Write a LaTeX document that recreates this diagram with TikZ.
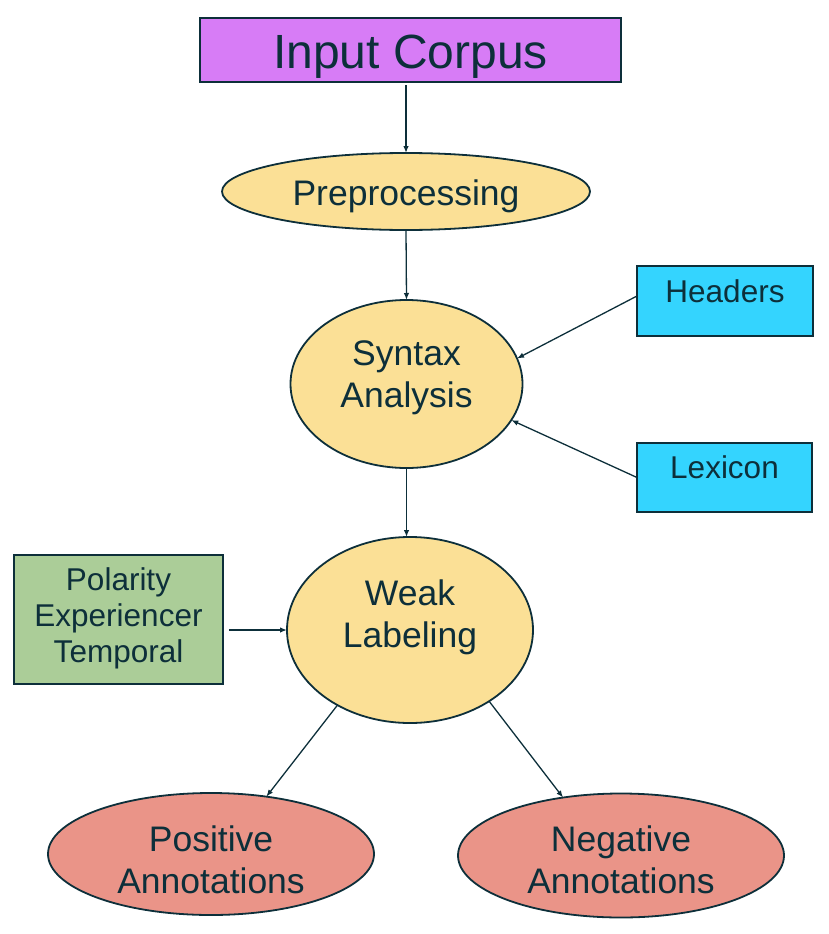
\documentclass[tikz,border=0pt]{standalone}
\usepackage{fontspec}
\setmainfont{Liberation Sans}
\usetikzlibrary{shapes.geometric,arrows.meta}
\definecolor{ink}{RGB}{13,47,58}
\definecolor{violetfill}{RGB}{215,124,246}
\definecolor{ylw}{RGB}{251,224,150}
\definecolor{cyanfill}{RGB}{52,212,254}
\definecolor{greenfill}{RGB}{171,205,152}
\definecolor{salmon}{RGB}{234,148,136}
\tikzset{
  shapebase/.style={draw=ink, line width=1.8pt, inner sep=0pt, outer sep=0pt},
  ell/.style={shapebase, ellipse, fill=ylw},
  resell/.style={shapebase, ellipse, fill=salmon},
  box/.style={shapebase, rectangle},
  lab/.style={text=ink, align=center, inner sep=0pt},
  huge/.style={font=\fontsize{48}{57}\selectfont},
  big/.style={font=\fontsize{35.5}{42}\selectfont},
  mid/.style={font=\fontsize{31.5}{36}\selectfont},
  conn/.style={draw=ink, line width=1.3pt, -{Latex[length=7pt,width=5.5pt]}}
}
\begin{document}
\begin{tikzpicture}[x=1pt,y=-1pt]
\useasboundingbox (0,0) rectangle (828,934);

\node[box, fill=violetfill, minimum width=421pt, minimum height=64pt,
      label={[lab, huge, yshift=-6.5pt]center:{Input Corpus}}] (inp) at (410.5,50) {};
\node[ell, minimum width=368pt, minimum height=77pt,
      label={[lab, big, yshift=-4.5pt]center:{Preprocessing}}] (pre) at (406,191.5) {};
\node[ell, minimum width=232pt, minimum height=168pt,
      label={[lab, big, yshift=6.3pt]center:{Syntax\\Analysis}}] (syn) at (406.5,384) {};
\node[box, fill=cyanfill, minimum width=176pt, minimum height=70pt,
      label={[lab, mid, yshift=9.5pt]center:{Headers}}] (hd) at (725,301) {};
\node[box, fill=cyanfill, minimum width=175pt, minimum height=69pt,
      label={[lab, mid, yshift=10pt]center:{Lexicon}}] (lex) at (724.5,477.5) {};
\node[ell, minimum width=246pt, minimum height=186pt,
      label={[lab, big, yshift=12.3pt]center:{Weak\\Labeling}}] (wk) at (410,630) {};
\node[box, fill=greenfill, minimum width=209pt, minimum height=129pt,
      label={[lab, mid, yshift=1.2pt]center:{Polarity\\Experiencer\\Temporal}}] (gr) at (118.5,619.5) {};
\node[resell, minimum width=326pt, minimum height=122pt,
      label={[lab, big, yshift=-6pt]center:{Positive\\Annotations}}] (pos) at (211,854) {};
\node[resell, minimum width=326pt, minimum height=124pt,
      label={[lab, big, yshift=-4.5pt]center:{Negative\\Annotations}}] (neg) at (621,855.5) {};

\draw[conn] ([yshift=-3pt]pre.north |- inp.south) -- (pre.north);
\draw[conn] (pre.south) -- (syn.north);
\draw[conn] ([yshift=5pt]hd.west) -- (syn.13);
\draw[conn] (lex.west) -- (syn.-19);
\draw[conn] (syn.south) -- (syn.south |- wk.north);
\draw[conn] ([xshift=6pt]gr.east |- wk.west) -- (wk.west);
\draw[conn] (wk.226) -- (pos.46);
\draw[conn] (wk.-42) -- (neg.135);
\end{tikzpicture}
\end{document}
